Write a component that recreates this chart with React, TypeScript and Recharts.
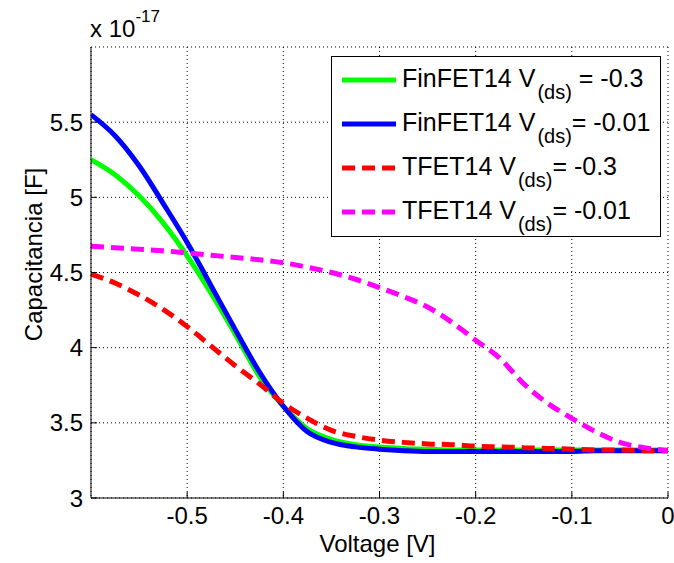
import * as React from "react";
import {CartesianGrid, Label, Legend, Line, LineChart, XAxis, YAxis} from "recharts";

const voltage = [-0.6, -0.575, -0.55, -0.525, -0.5, -0.475, -0.45, -0.425, -0.4, -0.375, -0.35, -0.325, -0.3,
    -0.275, -0.25, -0.225, -0.2, -0.175, -0.15, -0.125, -0.1, -0.075, -0.05, -0.025, 0];

// capacitance in units of 1e-17 F
const finfetVds03 = [5.25, 5.15, 5.01, 4.83, 4.61, 4.36, 4.09, 3.81, 3.61, 3.46, 3.39, 3.355, 3.34,
    3.33, 3.325, 3.32, 3.32, 3.32, 3.32, 3.32, 3.32, 3.32, 3.32, 3.32, 3.32];
const finfetVds001 = [5.55, 5.41, 5.21, 4.96, 4.70, 4.41, 4.12, 3.84, 3.61, 3.44, 3.37, 3.34, 3.325,
    3.315, 3.31, 3.31, 3.31, 3.31, 3.31, 3.31, 3.31, 3.315, 3.315, 3.315, 3.315];
const tfetVds03 = [4.49, 4.43, 4.35, 4.255, 4.14, 4.01, 3.88, 3.76, 3.63, 3.53, 3.45, 3.41, 3.385,
    3.37, 3.36, 3.355, 3.345, 3.34, 3.335, 3.33, 3.325, 3.32, 3.32, 3.315, 3.315];
const tfetVds001 = [4.675, 4.665, 4.655, 4.645, 4.63, 4.615, 4.60, 4.585, 4.565, 4.535, 4.50, 4.455, 4.40,
    4.34, 4.27, 4.17, 4.05, 3.93, 3.76, 3.63, 3.53, 3.44, 3.37, 3.335, 3.315];

const xTicks = [-0.5, -0.4, -0.3, -0.2, -0.1, 0];
const yTicks = [3, 3.5, 4, 4.5, 5, 5.5];

const series = [
    {key: "finfet03", name: "FinFET14 V", sub: "(ds)", tail: " = -0.3", color: "#00ff00", dash: undefined, values: finfetVds03},
    {key: "finfet001", name: "FinFET14 V", sub: "(ds)", tail: "= -0.01", color: "#0000ff", dash: undefined, values: finfetVds001},
    {key: "tfet03", name: "TFET14 V", sub: "(ds)", tail: "= -0.3", color: "#ff0000", dash: "13 7", values: tfetVds03},
    {key: "tfet001", name: "TFET14 V", sub: "(ds)", tail: "= -0.01", color: "#ff00ff", dash: "13 7", values: tfetVds001},
];

const data = voltage.map((v, i) => {
    const row: any = {v};
    series.forEach(s => row[s.key] = s.values[i]);
    return row;
});

const FONT = "'Liberation Sans', Arial, Helvetica, sans-serif";

const fmtX = (v: number) => (v === 0 ? "0" : String(v));

const BottomTick = (props: any) => {
    const {x, y, payload} = props;
    return (
        <g>
            <line x1={x} x2={x} y1={y} y2={y - 6} stroke="#000"/>
            <text x={x} y={y + 26} textAnchor="middle" fontFamily={FONT} fontSize={24} fill="#000">{fmtX(payload.value)}</text>
        </g>
    );
};

const LeftTick = (props: any) => {
    const {x, y, payload} = props;
    return (
        <g>
            <line x1={x} x2={x + 6} y1={y} y2={y} stroke="#000"/>
            <text x={x - 8} y={y} dy="0.36em" textAnchor="end" fontFamily={FONT} fontSize={24} fill="#000">{payload.value}</text>
        </g>
    );
};

const TopTick = (props: any) => <line x1={props.x} x2={props.x} y1={props.y} y2={props.y + 6} stroke="#000"/>;
const RightTick = (props: any) => <line x1={props.x - 6} x2={props.x} y1={props.y} y2={props.y} stroke="#000"/>;

const TitleLabel = (props: any) => {
    const vb = props.viewBox;
    return <text x={vb.x + vb.width / 2 - 2} y={vb.y - 19} textAnchor="middle" fontFamily={FONT} fontSize={24} fill="#000">Curvas Cox tipo p</text>;
};

const XLabel = (props: any) => {
    const vb = props.viewBox;
    return <text x={vb.x + vb.width / 2 - 2} y={vb.y + 54} textAnchor="middle" fontFamily={FONT} fontSize={24} fill="#000">Voltage [V]</text>;
};

const YLabel = (props: any) => {
    const vb = props.viewBox;
    const cy = vb.y + vb.height / 2 - 18;
    return (
        <g fontFamily={FONT} fill="#000">
            <text x={42} y={cy} transform={`rotate(-90, 42, ${cy})`} textAnchor="middle" fontSize={24}>Capacitancia [F]</text>
            <text x={vb.x + vb.width - 1} y={vb.y - 10} fontSize={24}>
                x 10<tspan dy={-15} fontSize={17}>-17</tspan>
            </text>
        </g>
    );
};

const LegendBox = () => (
    <svg width={330} height={181} style={{display: "block"}}>
        <rect x={0.5} y={0.5} width={329} height={180} fill="#fff" stroke="#000"/>
        {series.map((s, i) => {
            const cy = 24 + i * 44;
            return (
                <g key={s.key}>
                    <line x1={11} x2={65} y1={cy} y2={cy} stroke={s.color} strokeWidth={5} strokeDasharray={s.dash}/>
                    <text x={71} y={cy + 7} fontFamily={FONT} fontSize={25} fill="#000">
                        {s.name}
                        <tspan dx={2} dy={12} fontSize={20}>{s.sub}</tspan>
                        <tspan dy={-12}>{s.tail}</tspan>
                    </text>
                </g>
            );
        })}
    </svg>
);

export default function App() {
    return (
        <div style={{position: "absolute", left: 0, top: 0, background: "#fff"}}>
            <LineChart width={674} height={563} data={data} margin={{top: 47, right: 6, bottom: 0, left: 0}}>
                <CartesianGrid stroke="#000" strokeDasharray="1 3" xAxisId="bottom" yAxisId="left"/>
                <XAxis xAxisId="bottom" dataKey="v" type="number" domain={[-0.6, 0]} ticks={xTicks} interval={0}
                       height={65} tickSize={0} tickMargin={0} tick={<BottomTick/>} stroke="#000" allowDataOverflow>
                    <Label content={<XLabel/>}/>
                </XAxis>
                <XAxis xAxisId="top" orientation="top" type="number" domain={[-0.6, 0]} ticks={xTicks} interval={0}
                       height={0} tickSize={0} tickMargin={0} tick={<TopTick/>} stroke="#000" allowDataOverflow>
                    <Label content={<TitleLabel/>}/>
                </XAxis>
                <YAxis yAxisId="left" type="number" domain={[3, 6]} ticks={yTicks} interval={0} width={91}
                       tickSize={0} tickMargin={0} tick={<LeftTick/>} stroke="#000" allowDataOverflow>
                    <Label content={<YLabel/>}/>
                </YAxis>
                <YAxis yAxisId="right" orientation="right" type="number" domain={[3, 6]} ticks={yTicks} interval={0}
                       width={0} tickSize={0} tickMargin={0} tick={<RightTick/>} stroke="#000" allowDataOverflow/>
                {series.map(s => (
                    <Line key={s.key} xAxisId="bottom" yAxisId="left" type="monotone" dataKey={s.key} name={s.name}
                          stroke={s.color} strokeWidth={5} strokeDasharray={s.dash} dot={false}
                          isAnimationActive={false}/>
                ))}
                <Legend layout="vertical" align="center" verticalAlign="middle" content={<LegendBox/>}
                        wrapperStyle={{left: 331, top: 56, width: 330, height: 181}}/>
            </LineChart>
        </div>
    );
}
